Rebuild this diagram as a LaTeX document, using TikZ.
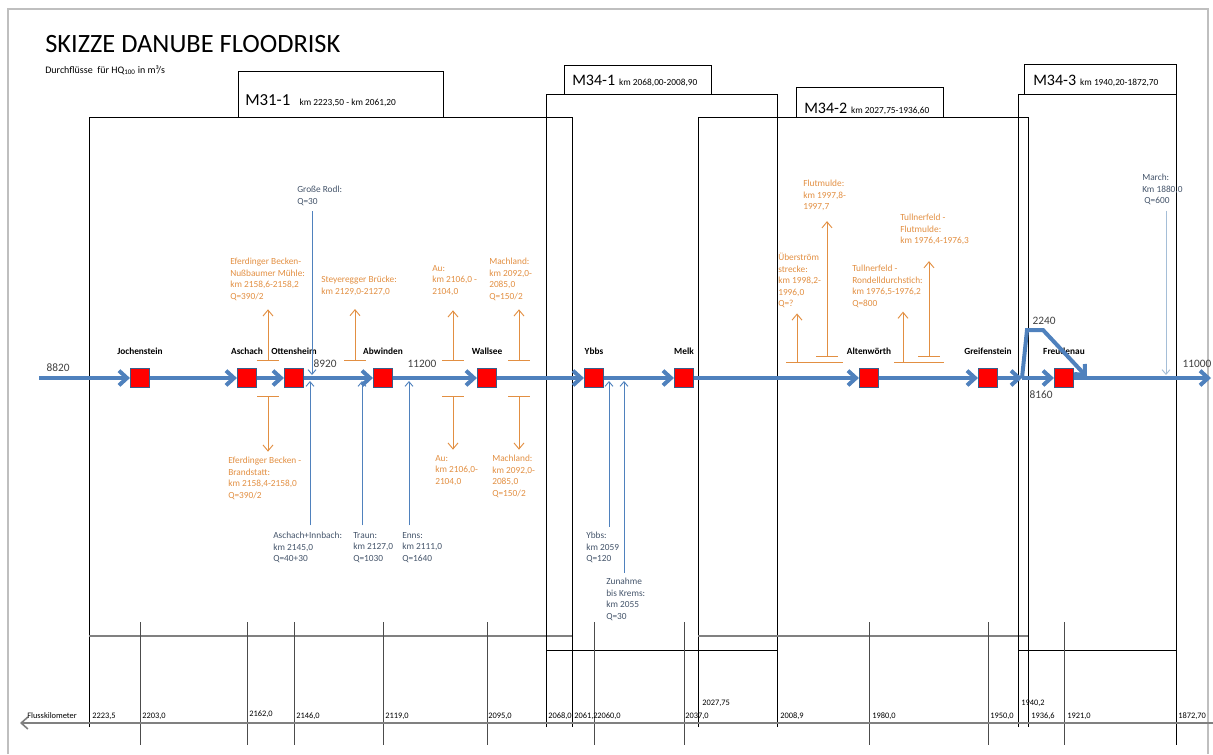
\documentclass[tikz,border=0pt]{standalone}
\usepackage{fontspec}
\setmainfont{Carlito}
\usetikzlibrary{arrows.meta,positioning}
\definecolor{flowblue}{RGB}{79,129,189}
\definecolor{sqborder}{RGB}{56,93,138}
\definecolor{orng}{RGB}{226,143,66}
\definecolor{tribtext}{RGB}{68,84,106}
\definecolor{marchblue}{RGB}{165,190,215}
\definecolor{pagegray}{RGB}{191,191,191}
\definecolor{numgray}{RGB}{64,64,64}

\begin{document}
\begin{tikzpicture}[x=0.75pt, y=-0.75pt,
	flow/.style={draw=flowblue, line width=3pt, -{Straight Barb[length=6pt,width=11pt]}},
	trib/.style={draw=flowblue, line width=0.7pt, -{Straight Barb[length=3.5pt,width=6pt]}},
	opin/.style={draw=orng, line width=0.7pt, -{Straight Barb[length=4.5pt,width=7.5pt]}},
	oarr/.style={opin, {Bar[width=16pt]}-{Straight Barb[length=4.5pt,width=7.5pt]}},
	otext/.style={anchor=north west, inner sep=0, align=left, text=orng, font=\fontsize{7}{8.6}\selectfont},
	btext/.style={anchor=north west, inner sep=0, align=left, text=tribtext, font=\fontsize{7}{8.6}\selectfont},
	box/.style={draw=black, line width=0.7pt},
	boxfoot/.style={draw=gray, line width=1.4pt},
	tick/.style={draw=black!70, line width=0.7pt},
	kmlab/.style={anchor=base west, inner sep=0, font=\fontsize{6.3}{7}\selectfont},
	qlab/.style={text=numgray, inner sep=0, font=\fontsize{8.5}{10}\selectfont},
	stlab/.style={inner sep=0, font=\fontsize{7}{8}\selectfont\bfseries},
	mlab/.style={anchor=base west, inner sep=0}]
	\useasboundingbox (0,0) rectangle (1213,754);
	\draw[pagegray, line width=2.2pt] (8,754) -- (8,9) -- (1208,9) -- (1208,754);

	\node[anchor=base west, inner sep=0, font=\fontsize{19.8}{22}\selectfont] (title) at (45,52) {SKIZZE DANUBE FLOODRISK};
	\node[anchor=base west, inner sep=0, font=\fontsize{7.5}{9}\selectfont] (sub) at (45,73) {Durchflüsse\ \ für HQ\textsubscript{100} in m³/s};

	\draw[box] (89,727) -- (89,117) -- (572,117) -- (572,727);
	\draw[boxfoot] (89,636) -- (572,636);
	\draw[box] (238,71) rectangle (443,117);
	\node[mlab] (m311) at (245,105) {\fontsize{12.6}{14}\selectfont M31-1\hspace{7pt}\fontsize{7}{8}\selectfont km 2223,50 - km 2061,20};

	\draw[box] (546,727) -- (546,94) -- (777,94) -- (777,727);
	\draw[box] (546,650) -- (777,650);
	\draw[box] (564,65) rectangle (711,94);
	\node[mlab] (m341) at (572,85) {\fontsize{12}{14}\selectfont M34-1\hspace{3pt}\fontsize{7}{8}\selectfont km 2068,00-2008,90};

	\draw[box] (698,727) -- (698,117) -- (1028,117) -- (1028,727);
	\draw[boxfoot] (698,636) -- (1028,636);
	\draw[box] (796,87) rectangle (943,117);
	\node[mlab] (m342) at (804,113) {\fontsize{12}{14}\selectfont M34-2\hspace{3pt}\fontsize{7}{8}\selectfont km 2027,75-1936,60};

	\draw[box] (1018,727) -- (1018,94) -- (1176,94) -- (1176,745);
	\draw[box] (1018,650) -- (1176,650);
	\draw[box] (1024,64) rectangle (1176,94);
	\node[mlab] (m343) at (1033,85) {\fontsize{12}{14}\selectfont M34-3\hspace{3pt}\fontsize{7}{8}\selectfont km 1940,20-1872,70};

	\begin{scope}[every node/.style={rectangle, draw=sqborder, line width=1.1pt, fill=red, minimum size=14pt, inner sep=0}]
		\node (jo) at (140,378) {};
		\node (as) at (247,378) {};
		\node (ot) at (294,378) {};
		\node (ab) at (383,378) {};
		\node (wa) at (487,378) {};
		\node (yb) at (594,378) {};
		\node (me) at (684,378) {};
		\node (al) at (869,378) {};
		\node (gr) at (988,378) {};
		\node (fr) at (1064,378) {};
	\end{scope}
	\node[stlab, above=10pt of jo] (jol) {Jochenstein};
	\node[stlab, above=10pt of as] (asl) {Aschach};
	\node[stlab, above=10pt of ot] (otl) {Ottensheim};
	\node[stlab, above=10pt of ab] (abl) {Abwinden};
	\node[stlab, above=10pt of wa] (wal) {Wallsee};
	\node[stlab, above=10pt of yb] (ybl) {Ybbs};
	\node[stlab, above=10pt of me] (mel) {Melk};
	\node[stlab, above=10pt of al] (all) {Altenwörth};
	\node[stlab, above=10pt of gr] (grl) {Greifenstein};
	\node[stlab, above=10pt of fr] (frl) {Freudenau};

	\foreach \s in {jo,as,ot,ab,wa,yb,me,al,gr,fr}
		\draw[tick] (\s |- 0,622) -- (\s |- 0,745);

	\node[otext] (ef1) at (230,258) {Eferdinger Becken-\\Nußbaumer Mühle:\\km 2158,6-2158,2\\Q=390/2};
	\node[otext] (st) at (321,276) {Steyeregger Brücke:\\km 2129,0-2127,0};
	\node[otext] (au1) at (432,265) {Au:\\km 2106,0 -\\2104,0};
	\node[otext] (ma1) at (489,258) {Machland:\\km 2092,0-\\2085,0\\Q=150/2};
	\node[otext] (ub) at (778,253) {Überström\\strecke:\\km 1998,2-\\1996,0\\Q=?};
	\node[otext] (fm) at (803,180) {Flutmulde:\\km 1997,8-\\1997,7};
	\node[otext] (tr) at (852,265) {Tullnerfeld -\\Rondelldurchstich:\\km 1976,5-1976,2\\Q=800};
	\node[otext] (tf) at (900,214) {Tullnerfeld -\\Flutmulde:\\km 1976,4-1976,3};
	\node[otext] (ef2) at (228,457) {Eferdinger Becken -\\Brandstatt:\\km 2158,4-2158,0\\Q=390/2};
	\node[otext] (au2) at (435,455) {Au:\\km 2106,0-\\2104,0};
	\node[otext] (ma2) at (492,455) {Machland:\\km 2092,0-\\2085,0\\Q=150/2};

	\coordinate (efo) at (268,361);
	\coordinate (sto) at (355,361);
	\coordinate (auo) at (453,361);
	\coordinate (mao) at (519,361);
	\coordinate (ubo) at (797,362);
	\coordinate (fmo) at (827,357);
	\coordinate (tro) at (903,362);
	\coordinate (tfo) at (929,357);
	\coordinate (efu) at (268,396);
	\coordinate (auu) at (453,396);
	\coordinate (mau) at (519,396);
	\draw[oarr, shorten >=6.5pt] (efo) -- (efo |- ef1.south);
	\draw[oarr, shorten >=10pt] (sto) -- (sto |- st.south);
	\draw[oarr, shorten >=11pt] (auo) -- (auo |- au1.south);
	\draw[oarr, shorten >=6.5pt] (mao) -- (mao |- ma1.south);
	\draw[opin, shorten >=4pt] (ubo) -- (ubo |- ub.south);
	\draw[oarr, shorten >=7.5pt] (fmo) -- (fmo |- fm.south);
	\draw[opin, shorten >=3pt] (tro) -- (tro |- tr.south);
	\draw[oarr, shorten >=12pt] (tfo) -- (tfo |- tf.south);
	\draw[orng, line width=0.7pt] (786,362) -- (843,362);
	\draw[orng, line width=0.7pt] (894,362) -- (944,362);
	\draw[oarr, shorten >=4pt] (efu) -- (efu |- ef2.north);
	\draw[oarr, shorten >=4pt] (auu) -- (auu |- au2.north);
	\draw[oarr, shorten >=4pt] (mau) -- (mau |- ma2.north);

	\node[btext] (rodl) at (297,186) {Große Rodl:\\Q=30};
	\node[btext] (ai) at (273,532) {Aschach+Innbach:\\km 2145,0\\Q=40+30};
	\node[btext] (tra) at (353,532) {Traun:\\km 2127,0\\Q=1030};
	\node[btext] (enn) at (402,532) {Enns:\\km 2111,0\\Q=1640};
	\node[btext] (ybt) at (586,532) {Ybbs:\\km 2059\\Q=120};
	\node[btext] (zu) at (606,578) {Zunahme\\bis Krems:\\km 2055\\Q=30};
	\node[btext] (march) at (1142,174) {March:\\Km 1880,0\\\ Q=600};

	\coordinate (rodlin) at (312,375);
	\coordinate (aiin) at (310,381);
	\coordinate (train) at (362,381);
	\coordinate (ennin) at (409,381);
	\coordinate (ybin) at (609,381);
	\coordinate (zuin) at (624,381);
	\coordinate (marin) at (1166,375);
	\draw[trib, shorten <=4pt] (rodlin |- rodl.south) -- (rodlin);
	\draw[trib, shorten <=5pt] (aiin |- ai.north) -- (aiin);
	\draw[trib, shorten <=5pt] (train |- tra.north) -- (train);
	\draw[trib, shorten <=5pt] (ennin |- enn.north) -- (ennin);
	\draw[trib, shorten <=4pt] (ybin |- ybt.north) -- (ybin);
	\draw[trib, shorten <=4pt] (zuin |- zu.north) -- (zuin);
	\draw[trib, draw=marchblue, shorten <=4pt] (marin |- march.south) -- (marin);

	\coordinate (src) at (39,378);
	\coordinate (split) at (1022,378);
	\coordinate (bu) at (1027,330);
	\coordinate (bo) at (1043,330);
	\coordinate (join) at (1087,377);
	\coordinate (mouth) at (1211,378);
	\path (src) edge[flow] (jo);
	\path (jo) edge[flow] (as);
	\path (as) edge[flow] (ot);
	\path (ot) edge[flow] (ab);
	\path (ab) edge[flow] (wa);
	\path (wa) edge[flow] (yb);
	\path (yb) edge[flow] (me);
	\path (me) edge[flow] (al);
	\path (al) edge[flow] (gr);
	\path (gr) edge[flow] (split);
	\path (split) edge[flow] (fr);
	\path (fr) edge[flow] (mouth);
	\draw[flow] (split) -- (bu) -- (bo) -- (join);

	\node[qlab] (q1) at (58,368) {8820};
	\node[qlab] (q2) at (325,364) {8920};
	\node[qlab] (q3) at (422,364) {11200};
	\node[qlab] (q4) at (1044,321) {2240};
	\node[qlab] (q5) at (1041,395) {8160};
	\node[qlab] (q6) at (1197,364) {11000};

	\coordinate (kmend) at (1213,723);
	\coordinate (kmtip) at (20,723);
	\draw[gray, line width=1.2pt, -{Straight Barb[length=5pt,width=9pt]}] (kmend) -- (kmtip);
	\node[kmlab] (fk) at (27,718) {Flusskilometer};
	\node[kmlab] (k1) at (92,718) {2223,5};
	\node[kmlab] (k2) at (142,718) {2203,0};
	\node[kmlab] (k3) at (249,716) {2162,0};
	\node[kmlab] (k4) at (296,718) {2146,0};
	\node[kmlab] (k5) at (385,718) {2119,0};
	\node[kmlab] (k6) at (488,718) {2095,0};
	\node[kmlab] (k7) at (548,718) {2068,0};
	\node[kmlab] (k8) at (574,718) {2061,2};
	\node[kmlab] (k9) at (597,718) {2060,0};
	\node[kmlab] (k10) at (685,718) {2037,0};
	\node[kmlab] (k11) at (702,705) {2027,75};
	\node[kmlab] (k12) at (780,718) {2008,9};
	\node[kmlab] (k13) at (872,718) {1980,0};
	\node[kmlab] (k14) at (990,718) {1950,0};
	\node[kmlab] (k15) at (1021,705) {1940,2};
	\node[kmlab] (k16) at (1031,718) {1936,6};
	\node[kmlab] (k17) at (1067,718) {1921,0};
	\node[kmlab] (k18) at (1178,718) {1872,70};
\end{tikzpicture}
\end{document}
